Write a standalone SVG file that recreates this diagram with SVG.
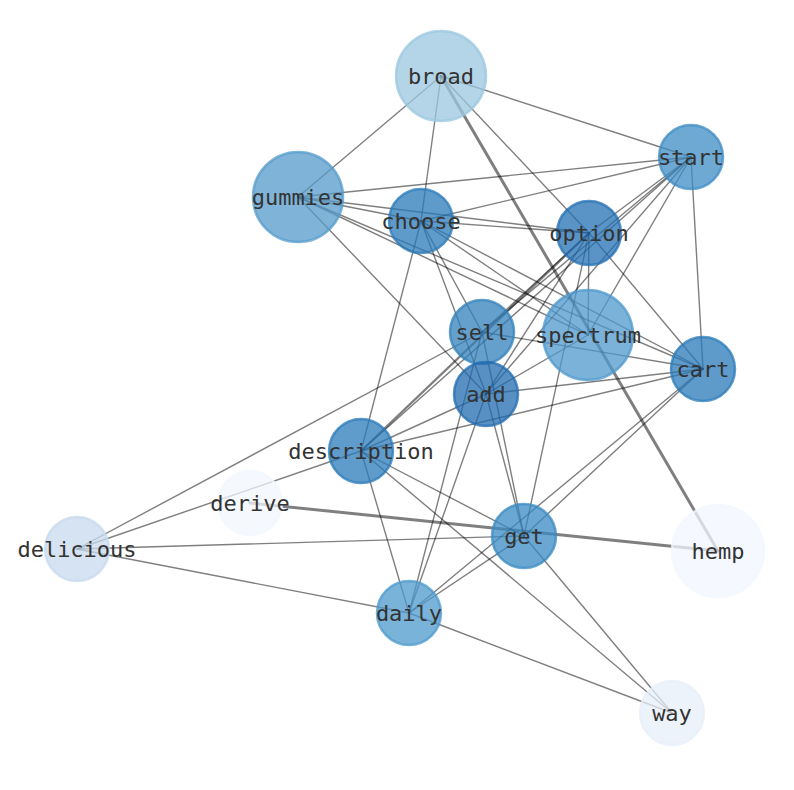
<svg xmlns="http://www.w3.org/2000/svg" width="794" height="790" viewBox="0 0 794 790">
<style>
.e{stroke:#000;stroke-opacity:0.5;stroke-width:1.4;fill:none;stroke-linecap:round}
.t{stroke-width:3}
.m{stroke-width:2.3}
circle{fill-opacity:0.75;stroke-opacity:0.75;stroke-width:2.5}
text{font-family:"DejaVu Sans Mono","Liberation Mono",monospace;font-size:22px;fill:#333;text-anchor:middle}
</style>
<rect width="794" height="790" fill="#fff"/>
<g id="edges">
<line class="e" x1="441" y1="76" x2="298" y2="197"/>
<line class="e" x1="441" y1="76" x2="421" y2="221"/>
<line class="e" x1="441" y1="76" x2="691" y2="157"/>
<line class="e" x1="441" y1="76" x2="589" y2="233"/>
<line class="e t" x1="441" y1="76" x2="718" y2="551"/>
<line class="e" x1="691" y1="157" x2="298" y2="197"/>
<line class="e" x1="691" y1="157" x2="421" y2="221"/>
<line class="e" x1="691" y1="157" x2="589" y2="233"/>
<line class="e" x1="691" y1="157" x2="588" y2="335"/>
<line class="e" x1="691" y1="157" x2="703" y2="369"/>
<line class="e" x1="691" y1="157" x2="482" y2="332"/>
<line class="e" x1="691" y1="157" x2="486" y2="394"/>
<line class="e" x1="691" y1="157" x2="361" y2="451"/>
<line class="e" x1="298" y1="197" x2="421" y2="221"/>
<line class="e" x1="298" y1="197" x2="589" y2="233"/>
<line class="e" x1="298" y1="197" x2="588" y2="335"/>
<line class="e" x1="298" y1="197" x2="703" y2="369"/>
<line class="e" x1="298" y1="197" x2="486" y2="394"/>
<line class="e" x1="421" y1="221" x2="589" y2="233"/>
<line class="e" x1="421" y1="221" x2="361" y2="451"/>
<line class="e" x1="421" y1="221" x2="482" y2="332"/>
<line class="e" x1="421" y1="221" x2="486" y2="394"/>
<line class="e" x1="421" y1="221" x2="588" y2="335"/>
<line class="e" x1="421" y1="221" x2="703" y2="369"/>
<line class="e" x1="589" y1="233" x2="588" y2="335"/>
<line class="e" x1="589" y1="233" x2="703" y2="369"/>
<line class="e" x1="589" y1="233" x2="524" y2="536"/>
<line class="e m" x1="589" y1="233" x2="361" y2="451"/>
<line class="e" x1="589" y1="233" x2="482" y2="332"/>
<line class="e" x1="589" y1="233" x2="486" y2="394"/>
<line class="e" x1="482" y1="332" x2="703" y2="369"/>
<line class="e" x1="482" y1="332" x2="77" y2="549"/>
<line class="e" x1="482" y1="332" x2="409" y2="613"/>
<line class="e" x1="482" y1="332" x2="524" y2="536"/>
<line class="e" x1="486" y1="394" x2="703" y2="369"/>
<line class="e" x1="486" y1="394" x2="588" y2="335"/>
<line class="e" x1="486" y1="394" x2="361" y2="451"/>
<line class="e" x1="486" y1="394" x2="409" y2="613"/>
<line class="e" x1="486" y1="394" x2="524" y2="536"/>
<line class="e" x1="361" y1="451" x2="77" y2="549"/>
<line class="e" x1="361" y1="451" x2="703" y2="369"/>
<line class="e" x1="361" y1="451" x2="524" y2="536"/>
<line class="e" x1="361" y1="451" x2="672" y2="713"/>
<line class="e" x1="361" y1="451" x2="409" y2="613"/>
<line class="e t" x1="250" y1="503" x2="718" y2="551"/>
<line class="e" x1="77" y1="549" x2="524" y2="536"/>
<line class="e" x1="77" y1="549" x2="409" y2="613"/>
<line class="e" x1="524" y1="536" x2="703" y2="369"/>
<line class="e" x1="524" y1="536" x2="672" y2="713"/>
<line class="e" x1="409" y1="613" x2="703" y2="369"/>
<line class="e" x1="409" y1="613" x2="524" y2="536"/>
<line class="e" x1="409" y1="613" x2="672" y2="713"/>
</g>
<g id="broad"><circle cx="441" cy="76" r="45" fill="#9ac7df" stroke="#9ac7df"/><text x="441" y="84">broad</text></g>
<g id="start"><circle cx="691" cy="157" r="32" fill="#3e8cc4" stroke="#3e8cc4"/><text x="691" y="165">start</text></g>
<g id="gummies"><circle cx="298" cy="197" r="45" fill="#549bcb" stroke="#549bcb"/><text x="298" y="205">gummies</text></g>
<g id="choose"><circle cx="421" cy="221" r="32" fill="#2a7ab8" stroke="#2a7ab8"/><text x="421" y="229">choose</text></g>
<g id="option"><circle cx="589" cy="233" r="32" fill="#236fb2" stroke="#236fb2"/><text x="589" y="241">option</text></g>
<g id="sell"><circle cx="482" cy="332" r="32" fill="#3280bb" stroke="#3280bb"/><text x="482" y="340">sell</text></g>
<g id="spectrum"><circle cx="588" cy="335" r="45" fill="#4e98cc" stroke="#4e98cc"/><text x="588" y="343">spectrum</text></g>
<g id="cart"><circle cx="703" cy="369" r="32" fill="#2a7ab8" stroke="#2a7ab8"/><text x="703" y="377">cart</text></g>
<g id="add"><circle cx="486" cy="394" r="32" fill="#226bb0" stroke="#226bb0"/><text x="486" y="402">add</text></g>
<g id="description"><circle cx="361" cy="451" r="32" fill="#2a7ab9" stroke="#2a7ab9"/><text x="361" y="459">description</text></g>
<g id="derive"><circle cx="250" cy="503" r="32" fill="#f2f7fe" stroke="#f2f7fe"/><text x="250" y="511">derive</text></g>
<g id="delicious"><circle cx="77" cy="549" r="32" fill="#c7daee" stroke="#c7daee"/><text x="77" y="557">delicious</text></g>
<g id="get"><circle cx="524" cy="536" r="32" fill="#388ac3" stroke="#388ac3"/><text x="524" y="544">get</text></g>
<g id="hemp"><circle cx="718" cy="551" r="46" fill="#f2f7ff" stroke="#f2f7ff"/><text x="718" y="559">hemp</text></g>
<g id="daily"><circle cx="409" cy="613" r="32" fill="#4e99cc" stroke="#4e99cc"/><text x="409" y="621">daily</text></g>
<g id="way"><circle cx="672" cy="713" r="32" fill="#e7effa" stroke="#e7effa"/><text x="672" y="721">way</text></g>
</svg>
